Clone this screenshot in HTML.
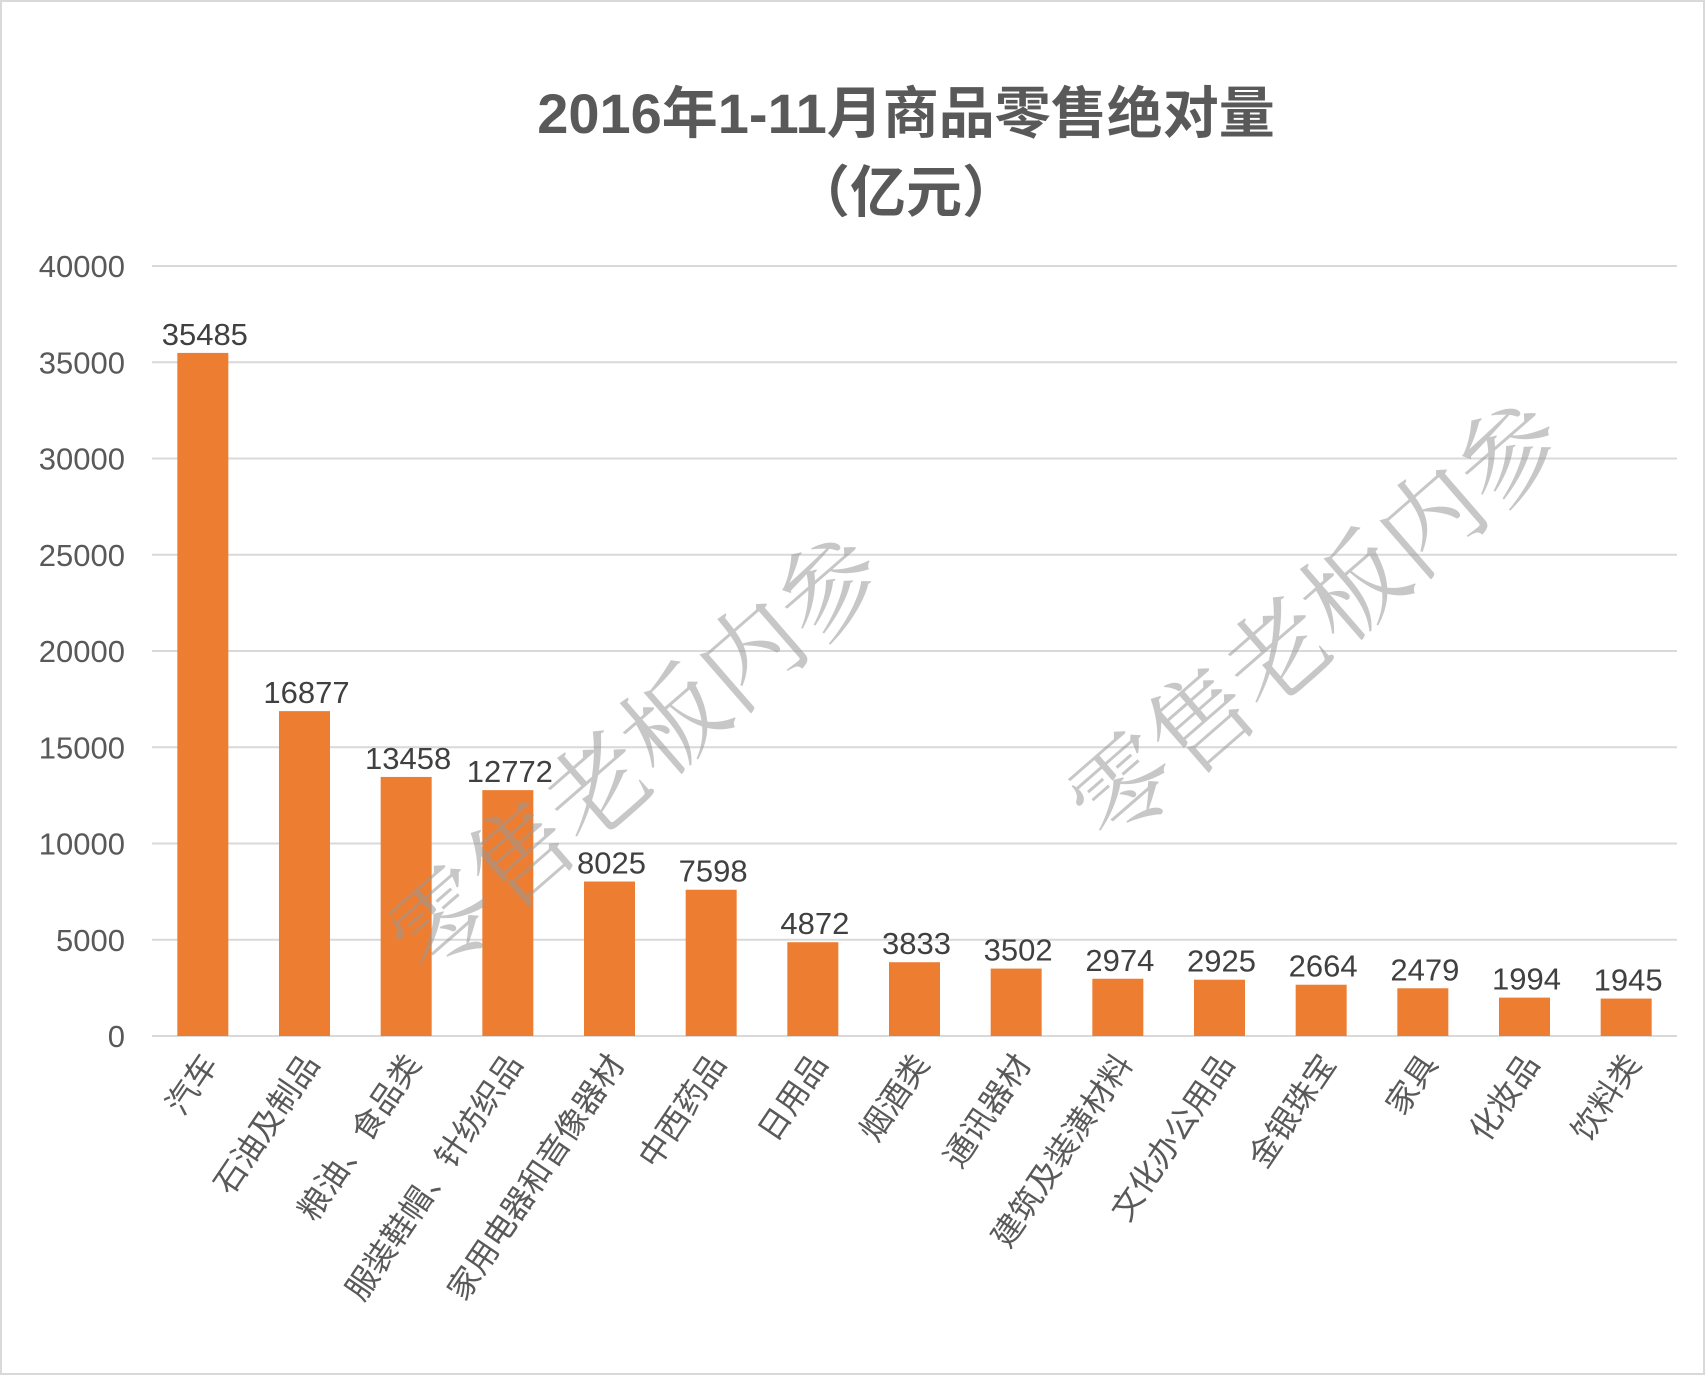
<!DOCTYPE html>
<html><head><meta charset="utf-8"><style>
body{margin:0;background:#fff}
svg{display:block}
</style></head><body>
<svg id="c" width="1705" height="1375" xmlns="http://www.w3.org/2000/svg" font-family="'Liberation Sans','Noto Sans CJK SC',sans-serif">
<rect x="1" y="1" width="1703" height="1373" fill="#fff" stroke="#d9d9d9" stroke-width="2"/>
<text x="906" y="133" text-anchor="middle" font-size="56" font-weight="bold" fill="#595959">2016年1-11月商品零售绝对量</text>
<text x="906" y="212" text-anchor="middle" font-size="56" font-weight="bold" fill="#595959">（亿元）</text>
<g id="grid"></g><g id="bars"></g><g id="labels"></g>
<g font-family="'Liberation Serif','Noto Serif CJK SC',serif" font-size="102" fill="#999" fill-opacity="0.55" text-anchor="middle">
<text transform="translate(660,782) rotate(-41)">零售老板内参</text>
<text transform="translate(1340,648) rotate(-41)">零售老板内参</text>
</g>
</svg>
<script>
const categories=["汽车","石油及制品","粮油、食品类","服装鞋帽、针纺织品","家用电器和音像器材","中西药品","日用品","烟酒类","通讯器材","建筑及装潢材料","文化办公用品","金银珠宝","家具","化妆品","饮料类"];
const values=[35485,16877,13458,12772,8025,7598,4872,3833,3502,2974,2925,2664,2479,1994,1945];
const yTicks=[0,5000,10000,15000,20000,25000,30000,35000,40000];
const L=152,R=1677,T=266,B=1036,max=40000;
const ns="http://www.w3.org/2000/svg";
const y=v=>B-(v/max)*(B-T);
const step=(R-L)/categories.length;
const x=i=>L+step*(i+0.5);
function mk(tag,attrs,parent,txt){const e=document.createElementNS(ns,tag);for(const k in attrs)e.setAttribute(k,attrs[k]);if(txt!==undefined)e.textContent=txt;document.getElementById(parent).appendChild(e);return e;}
yTicks.forEach(t=>{
 const l=mk('line',{x1:L,x2:R,y1:y(t),y2:y(t),stroke:'#d9d9d9','stroke-width':2},'grid');
 
 
 const tx=mk('text',{x:125,y:y(t)+11,'text-anchor':'end','font-size':31,fill:'#595959'},'grid',String(t));
 
 
});
const bw=51;
values.forEach((v,i)=>{
 const r=mk('rect',{x:x(i)-bw/2,y:y(v),width:bw,height:B-y(v),fill:'#ed7d31'},'bars');
 
 
 const t=mk('text',{x:x(i)+2,y:y(v)-8,'text-anchor':'middle','font-size':31,fill:'#404040'},'labels',String(v));
 
 
 const c=mk('text',{transform:`translate(${x(i)+16},${B+28}) rotate(-56)`,'text-anchor':'end','font-size':32,fill:'#595959'},'labels',categories[i]);
 
 
});
</script>
</body></html>
